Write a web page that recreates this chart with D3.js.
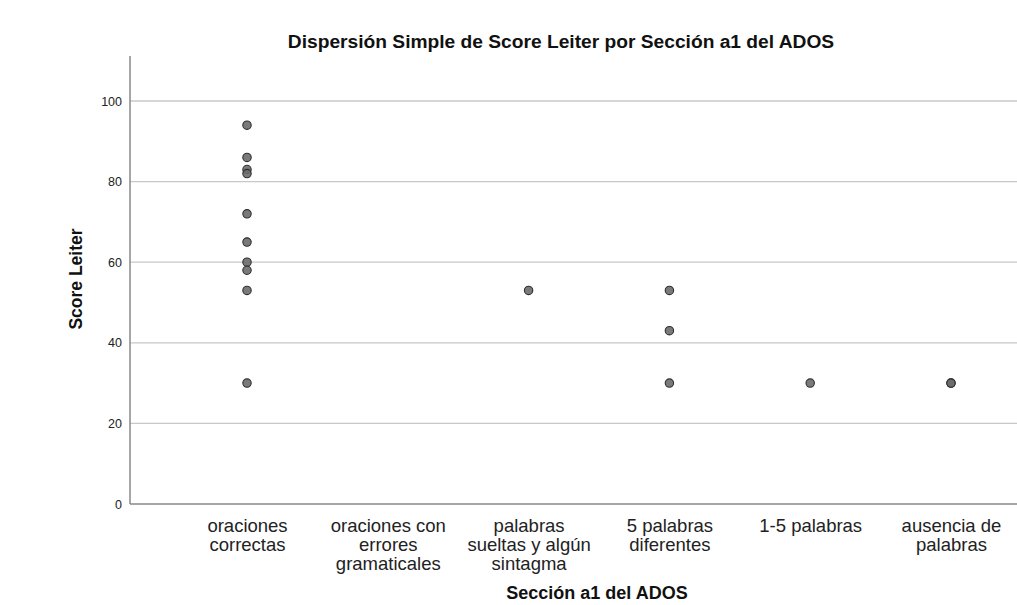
<!DOCTYPE html>
<html><head><meta charset="utf-8">
<script src="https://cdn.jsdelivr.net/npm/d3@7"></script>
<style>body{margin:0;background:#fff}svg{display:block;font-family:"Liberation Sans",Arial,sans-serif}</style>
</head><body>
<svg id="c" width="1017" height="605"></svg>
<script>
const categories = ["oraciones correctas","oraciones con errores gramaticales","palabras sueltas y algún sintagma","5 palabras diferentes","1-5 palabras","ausencia de palabras"];
const categoryLines = [["oraciones","correctas"],["oraciones con","errores","gramaticales"],["palabras","sueltas y algún","sintagma"],["5 palabras","diferentes"],["1-5 palabras"],["ausencia de","palabras"]];
const pointCategory = [0,0,0,0,0,0,0,0,0,0,2,3,3,3,4,5,5];
const pointScore    = [94,86,83,82,72,65,60,58,53,30,53,53,43,30,30,30,30];
const yTicks = [0,20,40,60,80,100];
const title = "Dispersión Simple de Score Leiter por Sección a1 del ADOS";
const xTitle = "Sección a1 del ADOS";
const yTitle = "Score Leiter";

const svg = d3.select("#c");
const left = 130, right = 1017, bottom = 504;
const y = d3.scaleLinear().domain([0,100]).range([bottom,101]);
const x = d3.scalePoint().domain(d3.range(categories.length)).range([247,951]);

// gridlines
svg.append("g").selectAll("line").data(yTicks.filter(d=>d>0)).join("line")
  .attr("x1",left).attr("x2",right).attr("y1",d=>y(d)).attr("y2",d=>y(d))
  .attr("stroke","#c8c8c8").attr("stroke-width",1.3);

// y axis
const yAxis = d3.axisLeft(y).tickValues(yTicks).tickSize(0).tickPadding(8);
const gy = svg.append("g").attr("transform",`translate(${left},0)`).call(yAxis);
gy.select(".domain").remove();
gy.selectAll("text").attr("font-size",12.5).attr("fill","#222").attr("font-family","Liberation Sans, Arial, sans-serif");
svg.append("line").attr("x1",left).attr("x2",left).attr("y1",56).attr("y2",bottom).attr("stroke","#888").attr("stroke-width",1.5);

// x axis
const xAxis = d3.axisBottom(x).tickSize(0).tickFormat("");
const gx = svg.append("g").attr("transform",`translate(0,${bottom})`).call(xAxis);
gx.select(".domain").remove();
svg.append("line").attr("x1",left).attr("x2",right).attr("y1",bottom).attr("y2",bottom).attr("stroke","#888").attr("stroke-width",1.5);
gx.selectAll(".tick").each(function(d){
  const t = d3.select(this).append("text").attr("text-anchor","middle").attr("fill","#222")
    .attr("font-size",18.5).attr("font-family","Liberation Sans, Arial, sans-serif");
  categoryLines[d].forEach((ln,i)=>t.append("tspan").attr("x",0).attr("y",28+i*19).text(ln));
});

// points
svg.append("g").selectAll("circle").data(pointScore).join("circle")
  .attr("cx",(d,i)=>x(pointCategory[i])).attr("cy",d=>y(d)).attr("r",4.2)
  .attr("fill","#6b6b6b").attr("fill-opacity",0.9).attr("stroke","#2e2e2e").attr("stroke-width",1.1);

// titles
svg.append("text").attr("x",561).attr("y",48).attr("text-anchor","middle")
  .attr("font-weight","bold").attr("font-size",19.2).attr("fill","#111").text(title);
svg.append("text").attr("transform","translate(82,279) rotate(-90)").attr("text-anchor","middle")
  .attr("font-weight","bold").attr("font-size",17.5).attr("fill","#111").text(yTitle);
svg.append("text").attr("x",597).attr("y",599).attr("text-anchor","middle")
  .attr("font-weight","bold").attr("font-size",18).attr("fill","#111").text(xTitle);
</script>
</body></html>
